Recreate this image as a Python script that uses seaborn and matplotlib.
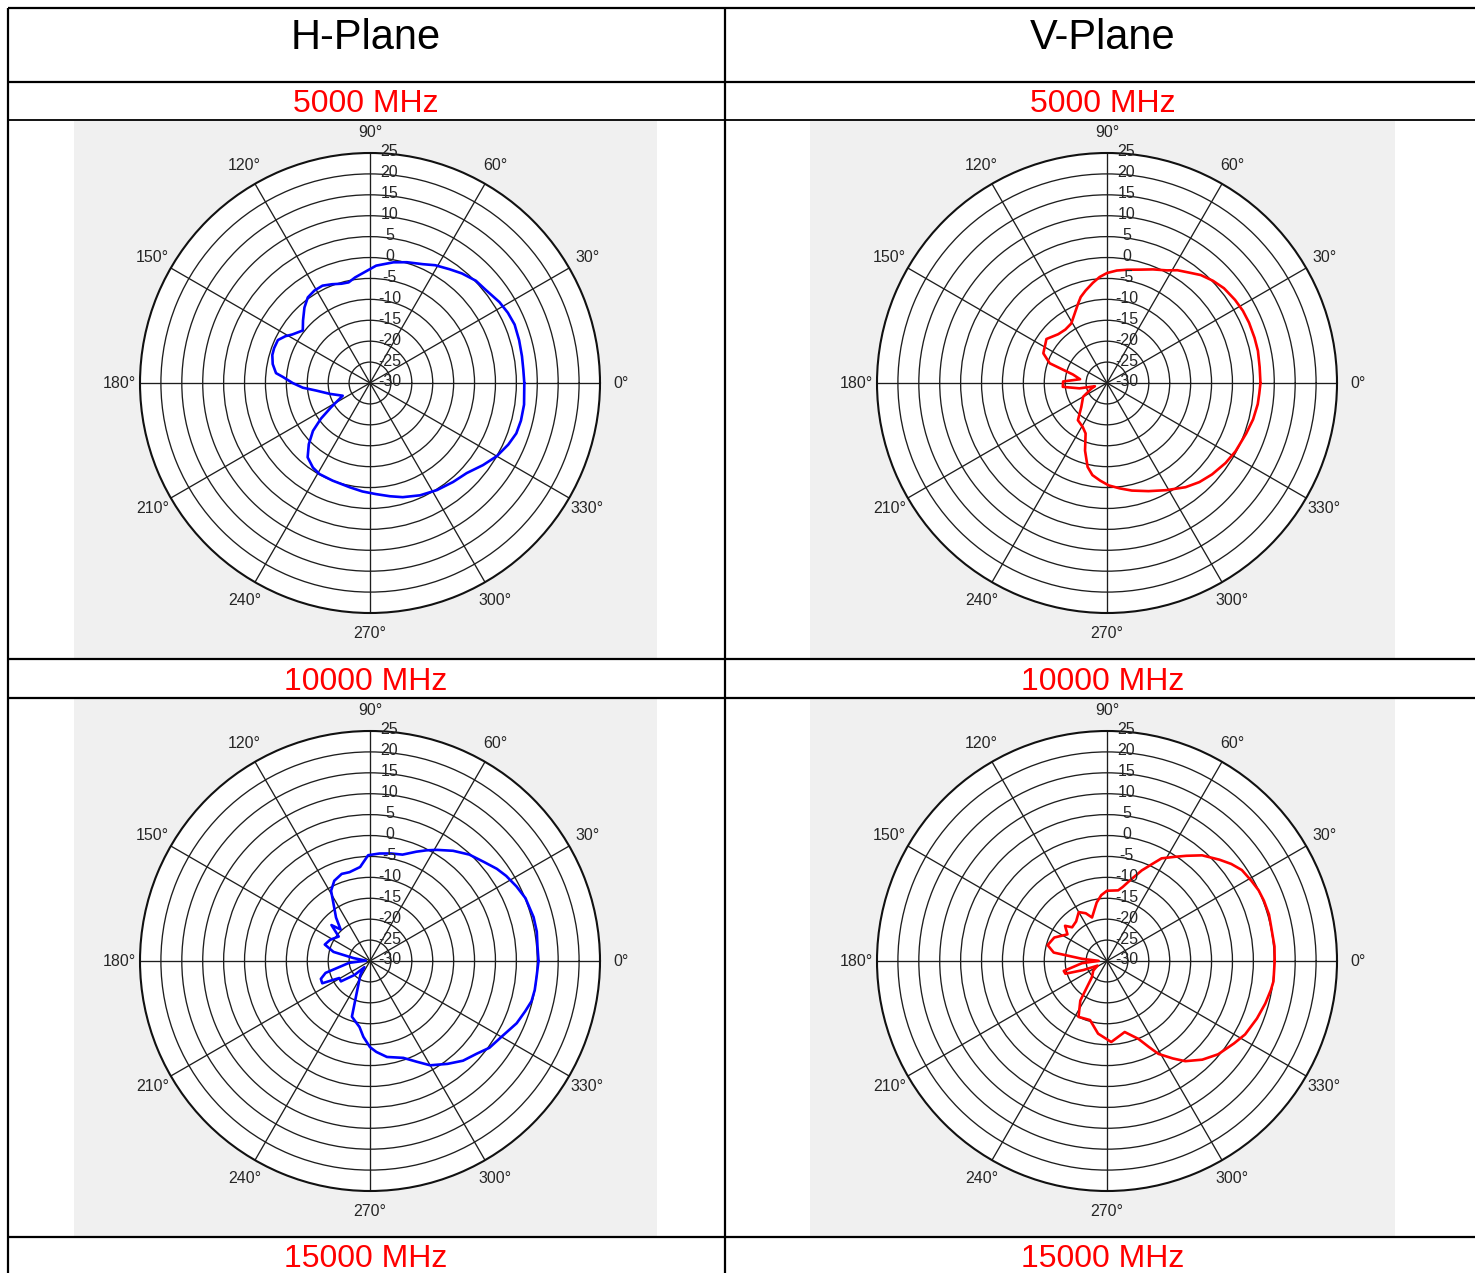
import numpy as np
import pandas as pd
import matplotlib
matplotlib.use("Agg")
import matplotlib.pyplot as plt
import matplotlib.transforms as mtransforms
from matplotlib.patches import Rectangle
import seaborn as sns

# -------------------
# Radiation patterns (angle in degrees, gain in dB)
# -------------------
h5_ang = [0, 5, 10, 16, 22, 27, 32, 39, 44, 50, 55, 61, 66, 73, 79, 87, 93, 98, 102,
          106, 111, 116, 121, 126, 131, 137, 142, 148, 151, 155, 160, 164, 169, 174,
          176, 180, 184, 188, 195, 205, 212, 216, 220, 225, 230, 236, 241, 249, 259,
          266, 273, 280, 286, 294, 302, 310, 317, 324, 330, 336, 341, 346, 352]
h5_db = [6.9, 6.8, 6.9, 7.1, 7.3, 7.0, 6.5, 5.5, 5.2, 4.2, 3.2, 2.2, 1.1, 0.2, -0.6,
         -1.9, -3.5, -4.5, -5.4, -5.3, -4.7, -4.1, -4.2, -4.7, -6.1, -8.1, -9.6, -8.1,
         -6.9, -5.7, -5.6, -5.7, -6.3, -7.4, -9.1, -11.5, -13.9, -17.0, -20.0, -22.8,
         -19.0, -15.5, -12.2, -9.3, -6.8, -5.6, -5.1, -5.0, -4.6, -4.0, -3.4, -2.5,
         -1.6, -0.6, 0.2, 0.9, 1.6, 3.4, 5.0, 6.2, 7.0, 7.2, 7.2]

v5_ang = [0, 6, 12, 17, 23, 28, 33, 39, 44, 49, 53, 58, 62, 68, 74, 80, 85, 90, 94,
          98, 103, 107, 110, 115, 121, 128, 135, 144, 155, 161, 166, 172, 178, 185,
          191, 195, 200, 210, 223, 232, 241, 247, 252, 257, 261, 266, 271, 277, 283,
          291, 299, 307, 313, 319, 326, 332, 340, 346, 352, 356]
v5_db = [6.7, 6.7, 6.9, 6.9, 6.9, 6.8, 6.5, 6.0, 5.2, 4.2, 3.0, 1.8, 0.5, -0.7, -1.8,
         -2.5, -3.0, -3.7, -4.6, -5.8, -7.3, -8.5, -9.8, -11.7, -13.4, -13.8, -13.5,
         -12.1, -13.2, -15.5, -21.6, -23.5, -19.5, -19.4, -23.3, -27.0, -26.0, -23.4,
         -21.6, -18.7, -18.0, -16.9, -13.0, -9.4, -7.7, -6.6, -5.5, -4.6, -3.6, -2.3,
         -0.7, 1.2, 2.4, 3.3, 4.2, 4.8, 5.4, 6.0, 6.4, 6.5]

h10_ang = [0, 5, 10, 15, 22, 27, 32, 36, 41, 47, 53, 59, 63, 67, 73, 79, 85, 91, 96,
           103, 108, 114, 119, 122, 128, 133, 137, 142, 152, 160, 166, 170, 175, 185,
           195, 200, 205, 209, 215, 222, 228, 235, 247, 252, 261, 265, 270, 274, 280,
           289, 295, 300, 307, 313, 319, 324, 331, 337, 342, 346, 350, 354]
h10_db = [10.3, 10.2, 10.5, 10.5, 10.1, 9.3, 8.4, 7.5, 6.1, 4.8, 3.0, 1.0, -0.3, -1.6,
          -3.4, -3.8, -4.2, -4.7, -7.4, -8.2, -8.1, -9.0, -10.8, -13.4, -16.8, -19.7,
          -17.4, -20.5, -19.2, -18.5, -21.0, -26.0, -29.0, -25.0, -19.0, -17.5, -17.4,
          -21.6, -21.5, -25.0, -28.0, -26.0, -22.0, -16.0, -14.0, -11.8, -9.4, -8.2,
          -6.7, -5.5, -3.4, -1.2, 0.8, 2.6, 3.8, 5.3, 6.5, 8.1, 9.0, 9.8, 10.0, 10.0]

v10_ang = [0, 5, 12, 16, 21, 25, 29, 34, 38, 42, 48, 53, 57, 62, 65, 69, 74, 78, 81,
           90, 95, 100, 109, 114, 120, 128, 136, 140, 146, 156, 165, 171, 175, 179,
           185, 193, 197, 201, 206, 215, 227, 236, 243, 254, 263, 273, 284, 292, 296,
           299, 304, 308, 314, 320, 327, 332, 339, 345, 350, 353]
v10_db = [10.1, 10.2, 10.1, 10.3, 10.2, 10.0, 9.5, 8.9, 7.7, 6.2, 4.0, 1.5, -0.3, -2.2,
          -4.4, -6.8, -9.9, -11.9, -12.9, -13.2, -14.2, -15.8, -19.0, -17.5, -16.5,
          -18.0, -18.4, -16.9, -18.6, -16.2, -15.3, -17.1, -24.0, -28.0, -24.0, -19.4,
          -19.6, -24.0, -27.5, -26.0, -24.7, -18.6, -15.0, -15.3, -12.5, -10.6, -12.5,
          -9.9, -7.1, -4.6, -1.9, 0.4, 2.8, 4.7, 6.2, 7.4, 8.4, 9.2, 9.8, 10.1]

r_min, r_max = -30, 25
r_ticks = list(range(-30, 26, 5))
theta_ticks = list(range(0, 360, 30))

col_titles = ["H-Plane", "V-Plane"]
freq_labels = ["5000 MHz", "10000 MHz", "15000 MHz"]

# -------------------
# Layout (pixels)
# -------------------
W, H = 1475, 1273
col_cx = [370, 1107]
row_cy = [383, 961]
radius = 230
grey_x = [(74, 657), (810, 1395)]
grey_y = [(121, 659), (699, 1237)]

sns.set_theme(style="white")
plt.rcParams['font.family'] = ['Liberation Sans', 'DejaVu Sans']

fig = plt.figure(figsize=(W / 100, H / 100), dpi=100)
fig.patch.set_facecolor("white")

bg = fig.add_axes([0, 0, 1, 1])
bg.set_xlim(0, W)
bg.set_ylim(H, 0)
bg.axis("off")

# grey picture backgrounds
for (x0, x1) in grey_x:
    for (y0, y1) in grey_y:
        bg.add_patch(Rectangle((x0, y0), x1 - x0, y1 - y0, facecolor="#f0f0f0",
                               edgecolor="none", zorder=1))

# table lines
for y, lw in [(8, 1.6), (82, 1.6), (120, 1.3), (659, 1.6), (698, 1.6), (1237, 1.6)]:
    bg.plot([8, W], [y, y], color="black", lw=lw, zorder=2, solid_capstyle="butt")
for x in [8, 725]:
    bg.plot([x, x], [8, H], color="black", lw=1.6, zorder=2, solid_capstyle="butt")

# table text
title_x = [366, 1103]
for tx, t in zip(title_x, col_titles):
    bg.text(tx, 38, t, ha="center", va="center", fontsize=30, color="black")
for lab, ty in zip(freq_labels, [104, 682, 1259]):
    for tx in title_x:
        bg.text(tx, ty, lab, ha="center", va="center", fontsize=23, color="red")

patterns = [
    [(h5_ang, h5_db, "blue"), (v5_ang, v5_db, "red")],
    [(h10_ang, h10_db, "blue"), (v10_ang, v10_db, "red")],
]

label_offset = mtransforms.ScaledTranslation(0.195, 0.01, fig.dpi_scale_trans)

for ri, row in enumerate(patterns):
    for ci, (ang, db, color) in enumerate(row):
        cx, cy = col_cx[ci], row_cy[ri]
        rect = [(cx - radius) / W, (H - cy - radius) / H, 2 * radius / W, 2 * radius / H]
        ax = fig.add_axes(rect, projection="polar")
        ax.set_facecolor("white")

        df = pd.DataFrame({"theta": np.deg2rad(ang + [ang[0] + 360]),
                           "gain": db + [db[0]]})
        sns.lineplot(data=df, x="theta", y="gain", ax=ax, color=color,
                     linewidth=1.9, sort=False, estimator=None, zorder=4)

        ax.set_rlim(r_min, r_max)
        ax.set_xticks(np.deg2rad(theta_ticks))
        ax.set_xticklabels([])
        ax.set_yticks(r_ticks[1:-1])
        ax.set_yticklabels([])
        ax.grid(True, color="#1e1e1e", linewidth=0.95, linestyle="-")
        ax.spines["polar"].set_linewidth(1.5)
        ax.spines["polar"].set_color("#111111")
        ax.set(xlabel="", ylabel="")

        for a in theta_ticks:
            ax.text(np.deg2rad(a), 30.0, f"{a}°", ha="center", va="center",
                    fontsize=11.5, color="#262626", clip_on=False)
        for v in r_ticks:
            ax.text(np.pi / 2, v, str(v), ha="center", va="center", fontsize=11.5,
                    color="#262626", transform=ax.transData + label_offset,
                    zorder=5, clip_on=False)

fig.savefig("out.png", dpi=100)
